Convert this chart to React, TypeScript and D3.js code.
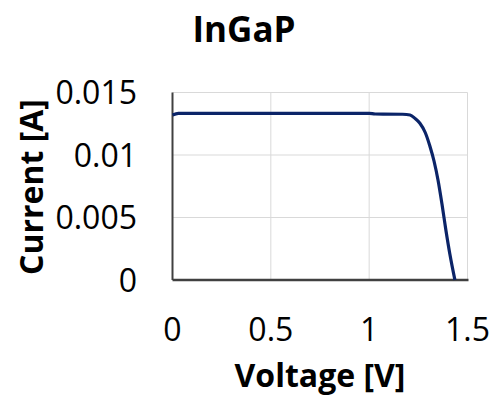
import { useEffect, useRef } from 'react'
import * as d3 from 'd3'

// I-V curve
const voltage = [0, 0.03, 0.5, 1.0, 1.03, 1.17, 1.208, 1.233, 1.258, 1.285, 1.309, 1.33, 1.35, 1.37, 1.39, 1.41, 1.436]
const current = [0.0132, 0.01333, 0.01333, 0.01333, 0.01328, 0.01326, 0.0132, 0.01293, 0.01254, 0.0118, 0.0107, 0.0095, 0.008, 0.0061, 0.0040, 0.0021, 0]
const xTicks = [0, 0.5, 1, 1.5]
const yTicks = [0, 0.005, 0.01, 0.015]
const xTickLabels = ['0', '0.5', '1', '1.5']
const yTickLabels = ['0', '0.005', '0.01', '0.015']

const App = () => {
  const svgRef = useRef<SVGSVGElement>(null)

  useEffect(() => {
    const W = 492
    const H = 401
    const left = 172.5, right = 467.5, top = 92.5, bottom = 280

    const svg = d3.select(svgRef.current)
    svg.selectAll('*').remove()
    svg.attr('width', W).attr('height', H)

    const x = d3.scaleLinear().domain([0, 1.5]).range([left, right])
    const y = d3.scaleLinear().domain([0, 0.015]).range([bottom, top])

    const font = "'Open Sans', sans-serif"

    // gridlines
    svg.append('g')
      .selectAll('line')
      .data(xTicks.slice(1))
      .enter()
      .append('line')
      .attr('x1', d => x(d)).attr('x2', d => x(d))
      .attr('y1', top).attr('y2', bottom)
      .attr('stroke', '#d9d9d9').attr('stroke-width', 1)

    svg.append('g')
      .selectAll('line')
      .data(yTicks.slice(1))
      .enter()
      .append('line')
      .attr('x1', left).attr('x2', right)
      .attr('y1', d => y(d)).attr('y2', d => y(d))
      .attr('stroke', '#d9d9d9').attr('stroke-width', 1)

    // axis lines
    svg.append('line')
      .attr('x1', left).attr('x2', left).attr('y1', top).attr('y2', bottom)
      .attr('stroke', '#404040').attr('stroke-width', 2)
    svg.append('line')
      .attr('x1', left).attr('x2', right + 1).attr('y1', bottom).attr('y2', bottom)
      .attr('stroke', '#404040').attr('stroke-width', 2.5)

    const data = voltage.map((v, i) => ({ v, c: current[i] }))
    const line = d3.line<{ v: number; c: number }>()
      .x(d => x(d.v))
      .y(d => y(d.c))
      .curve(d3.curveMonotoneX)

    svg.append('path')
      .datum(data)
      .attr('fill', 'none')
      .attr('stroke', '#0b2468')
      .attr('stroke-width', 3.2)
      .attr('stroke-linejoin', 'round')
      .attr('d', line(data))

    // tick labels
    svg.append('g')
      .selectAll('text')
      .data(yTicks)
      .enter()
      .append('text')
      .attr('x', 137)
      .attr('y', d => y(d))
      .attr('dy', '0.36em')
      .attr('text-anchor', 'end')
      .style('font-family', font)
      .style('font-size', '32px')
      .attr('fill', '#000')
      .text((d, i) => yTickLabels[i])

    svg.append('g')
      .selectAll('text')
      .data(xTicks)
      .enter()
      .append('text')
      .attr('x', d => x(d))
      .attr('y', 341)
      .attr('text-anchor', 'middle')
      .style('font-family', font)
      .style('font-size', '32px')
      .attr('fill', '#000')
      .text((d, i) => xTickLabels[i])

    svg.append('text')
      .attr('x', 244)
      .attr('y', 42)
      .attr('text-anchor', 'middle')
      .style('font-family', font)
      .style('font-weight', 'bold')
      .style('font-size', '35px')
      .text('InGaP')

    svg.append('text')
      .attr('x', 320)
      .attr('y', 387)
      .attr('text-anchor', 'middle')
      .style('font-family', font)
      .style('font-weight', 'bold')
      .style('font-size', '32px')
      .text('Voltage [V]')

    svg.append('text')
      .attr('transform', 'translate(43,187) rotate(-90)')
      .attr('text-anchor', 'middle')
      .style('font-family', font)
      .style('font-weight', 'bold')
      .style('font-size', '32px')
      .text('Current [A]')
  }, [])

  return <svg ref={svgRef} style={{ position: 'absolute', left: 0, top: 0, background: '#fff' }}></svg>
}

export default App
